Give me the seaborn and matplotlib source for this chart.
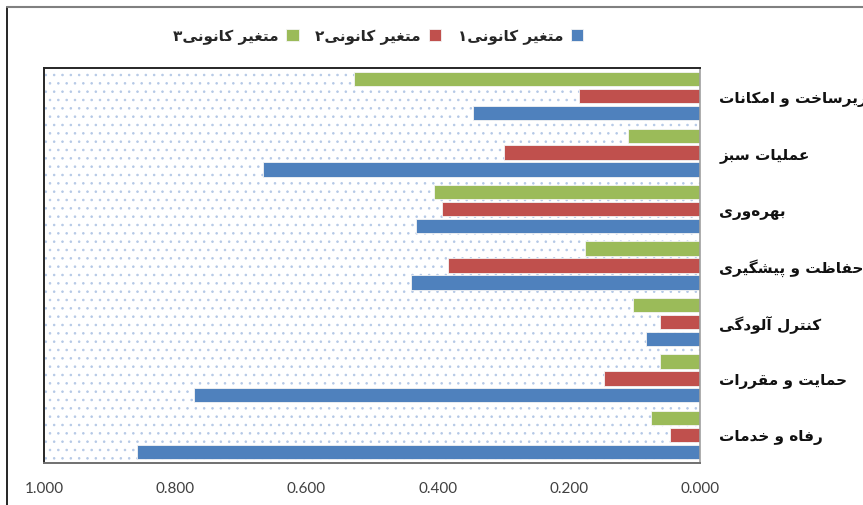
import pandas as pd
import matplotlib
matplotlib.use('Agg')
import matplotlib.pyplot as plt
import seaborn as sns
from matplotlib.lines import Line2D

# Datos (de arriba hacia abajo)
categorias = ['زیرساخت و امکانات', 'عملیات سبز', 'بهره\u200cوری', 'حفاظت و پیشگیری',
              'کنترل آلودگی', 'حمایت و مقررات', 'رفاه و خدمات']
variables = ['متغیر کانونی۱', 'متغیر کانونی۲', 'متغیر کانونی۳']
var1 = [0.346, 0.666, 0.433, 0.441, 0.082, 0.771, 0.858]
var2 = [0.185, 0.299, 0.393, 0.384, 0.061, 0.147, 0.046]
var3 = [0.528, 0.110, 0.405, 0.175, 0.102, 0.061, 0.075]
ticks_x = [0.0, 0.2, 0.4, 0.6, 0.8, 1.0]

colores = {variables[0]: '#4F81BD', variables[1]: '#C0504D', variables[2]: '#9BBB59'}

# Formas de presentación árabes (aislada, final, inicial, medial)
formas = {
    'ا': ('\uFE8D', '\uFE8E', None, None), 'آ': ('\uFE81', '\uFE82', None, None),
    'ب': ('\uFE8F', '\uFE90', '\uFE91', '\uFE92'), 'پ': ('\uFB56', '\uFB57', '\uFB58', '\uFB59'),
    'ت': ('\uFE95', '\uFE96', '\uFE97', '\uFE98'), 'ح': ('\uFEA1', '\uFEA2', '\uFEA3', '\uFEA4'),
    'خ': ('\uFEA5', '\uFEA6', '\uFEA7', '\uFEA8'), 'د': ('\uFEA9', '\uFEAA', None, None),
    'ر': ('\uFEAD', '\uFEAE', None, None), 'ز': ('\uFEAF', '\uFEB0', None, None),
    'س': ('\uFEB1', '\uFEB2', '\uFEB3', '\uFEB4'), 'ش': ('\uFEB5', '\uFEB6', '\uFEB7', '\uFEB8'),
    'ظ': ('\uFEC5', '\uFEC6', '\uFEC7', '\uFEC8'), 'ع': ('\uFEC9', '\uFECA', '\uFECB', '\uFECC'),
    'غ': ('\uFECD', '\uFECE', '\uFECF', '\uFED0'), 'ف': ('\uFED1', '\uFED2', '\uFED3', '\uFED4'),
    'ق': ('\uFED5', '\uFED6', '\uFED7', '\uFED8'), 'ک': ('\uFB8E', '\uFB8F', '\uFB90', '\uFB91'),
    'گ': ('\uFB92', '\uFB93', '\uFB94', '\uFB95'), 'ل': ('\uFEDD', '\uFEDE', '\uFEDF', '\uFEE0'),
    'م': ('\uFEE1', '\uFEE2', '\uFEE3', '\uFEE4'), 'ن': ('\uFEE5', '\uFEE6', '\uFEE7', '\uFEE8'),
    'ه': ('\uFEE9', '\uFEEA', '\uFEEB', '\uFEEC'), 'و': ('\uFEED', '\uFEEE', None, None),
    'ی': ('\uFBFC', '\uFBFD', '\uFBFE', '\uFBFF'),
}


def dual(c):
    return c in formas and formas[c][2] is not None


def rtl(texto):
    salida = []
    n = len(texto)
    for i, c in enumerate(texto):
        if c == '\u200c':
            continue
        if c not in formas:
            salida.append(c)
            continue
        antes = i > 0 and dual(texto[i - 1])
        despues = dual(c) and i + 1 < n and texto[i + 1] in formas
        iso, fin, ini, med = formas[c]
        if antes and despues:
            salida.append(med)
        elif antes:
            salida.append(fin)
        elif despues:
            salida.append(ini)
        else:
            salida.append(iso)
    return ''.join(reversed(salida))


datos = pd.DataFrame({
    'شاخص': categorias * 3,
    'مقدار': var1 + var2 + var3,
    'متغیر': [variables[0]] * 7 + [variables[1]] * 7 + [variables[2]] * 7,
})

sns.set_style('white')
plt.rcParams['font.family'] = ['DejaVu Sans']
plt.rcParams['hatch.color'] = '#B4C8E6'
plt.rcParams['hatch.linewidth'] = 0.6

fig = plt.figure(figsize=(8.63, 5.06), dpi=100)
ax = fig.add_axes([44 / 863, 42 / 506, 656 / 863, 395 / 506])

ax.patch.set_facecolor('white')
ax.patch.set_hatch('..')
ax.patch.set_edgecolor('#B4C8E6')

orden = [variables[2], variables[1], variables[0]]
sns.barplot(data=datos, y='شاخص', x='مقدار', hue='متغیر', hue_order=orden,
            palette=colores, saturation=1, orient='h', width=0.9, gap=0.15,
            edgecolor='#F4F4F4', linewidth=0.6, ax=ax)

ax.set_xlim(1.0, 0.0)
ax.set_xticks(ticks_x)
ax.set_xticklabels([f'{t:.3f}' for t in ticks_x], fontsize=11, color='#404040',
                   family=['Lato', 'DejaVu Sans'])
ax.tick_params(axis='x', length=0, pad=13)

ax.yaxis.tick_right()
ax.set_yticks(range(len(categorias)))
ax.set_yticklabels([rtl(c) for c in categorias], fontsize=11, fontweight='bold',
                   ha='left', color='#111111')
ax.tick_params(axis='y', length=0, pad=14)
ax.set_xlabel('')
ax.set_ylabel('')

for lado in ['top', 'left', 'bottom']:
    ax.spines[lado].set_color('#262626')
    ax.spines[lado].set_linewidth(1.4)
ax.spines['right'].set_color('#A0A0A0')
ax.spines['right'].set_linewidth(1.2)
ax.spines['bottom'].set_color('#707070')

handles, labels = ax.get_legend_handles_labels()
ax.legend(handles, [rtl(l) for l in labels], ncol=3, markerfirst=False, frameon=False,
          loc='center', bbox_to_anchor=(378 / 863, 1 - 37 / 506), bbox_transform=fig.transFigure,
          prop={'size': 11, 'weight': 'bold'}, handlelength=0.8, handleheight=0.8,
          handletextpad=0.5, columnspacing=1.1)

# Borde del área del gráfico
fig.add_artist(Line2D([7 / 863, 7 / 863], [0, 1 - 8 / 506], color='#000000', lw=1.2))
fig.add_artist(Line2D([7 / 863, 1], [1 - 8 / 506, 1 - 8 / 506], color='#808080', lw=1.5))

fig.savefig('out.png', dpi=100)
